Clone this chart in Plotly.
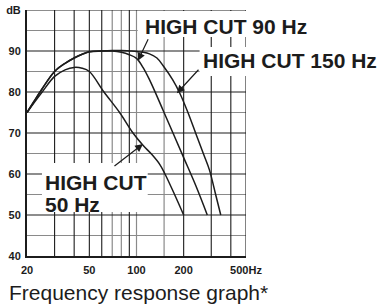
import math
import plotly.graph_objects as go

# ---- data ----
freq_50 = [20, 22, 25, 30, 35, 40, 45, 50, 62, 78, 95, 110, 125, 141, 152, 175, 200]
db_50 = [75, 77.2, 80, 83.8, 85.4, 86.0, 85.8, 85.0, 80.0, 75.0, 70.0, 67.0, 64.8, 62.3, 60.0, 55.0, 50.0]

freq_90 = [20, 22, 25, 30, 35, 40, 45, 50, 60, 70, 80, 90, 100, 110, 121, 148, 200, 240, 283]
db_90 = [75, 77.5, 80.8, 85, 87, 88.3, 89.2, 89.8, 90, 90, 89.7, 89.1, 88.2, 86, 83, 75.5, 64, 57, 50]

freq_150 = [20, 22, 25, 30, 35, 40, 45, 50, 60, 70, 80, 90, 100, 110, 121, 135, 148, 170, 189,
            213, 241, 270, 292, 320, 345]
db_150 = [75, 77.5, 80.8, 85, 87, 88.3, 89.2, 89.8, 90, 90.1, 90.1, 90, 89.9, 89.7, 89.3, 88.3,
          86.4, 83, 79.7, 75, 69.5, 64.5, 61, 55, 50]

x_tick_vals = [20, 50, 100, 200, 500]
x_tick_text = ["20", "50", "100", "200", "500Hz"]
y_tick_vals = [40, 50, 60, 70, 80, 90, 100]
y_tick_text = ["40", "50", "60", "70", "80", "90", "dB"]

grid_x_dark = [30, 40, 50, 60, 90, 200, 300, 400, 500]
grid_x_gray = [70, 80, 100, 150]
grid_y_dark = [50, 60, 70, 80, 90, 100]
grid_y_gray = [45, 55, 65, 75, 85, 95]

X_MIN, X_MAX = 20, 500
Y_MIN, Y_MAX = 40, 100

# ---- layout geometry (pixels) ----
FIG_W, FIG_H = 382, 307
L, R, T, B = 27, 246.5, 10, 256
PW, PH = R - L, B - T


def px(xp):
    return (xp - L) / PW


def py(yp):
    return (B - yp) / PH


DARK = "#1c1c1c"
GRAY = "#8a8a8a"
FONT = "Liberation Sans, Arial, sans-serif"

fig = go.Figure()


def grid_trace(vals, vertical, color, width):
    xs, ys = [], []
    for v in vals:
        if vertical:
            xs += [v, v, None]
            ys += [Y_MIN, Y_MAX, None]
        else:
            xs += [X_MIN, X_MAX, None]
            ys += [v, v, None]
    fig.add_trace(go.Scatter(x=xs, y=ys, mode="lines", line=dict(color=color, width=width),
                             hoverinfo="skip", showlegend=False))


grid_trace(grid_y_gray, False, GRAY, 1.2)
grid_trace(grid_x_gray, True, GRAY, 1.2)
grid_trace(grid_y_dark, False, DARK, 1.1)
grid_trace(grid_x_dark, True, DARK, 1.1)

for f, d in [(freq_50, db_50), (freq_90, db_90), (freq_150, db_150)]:
    fig.add_trace(go.Scatter(x=f, y=d, mode="lines", line=dict(color=DARK, width=1.5, shape="spline"),
                             hoverinfo="skip", showlegend=False))

# white label boxes
boxes = [(138, 11, 312, 37), (200, 47, 382, 76), (42, 163, 148, 212)]
for x0, y0, x1, y1 in boxes:
    fig.add_shape(type="rect", xref="paper", yref="paper", x0=px(x0), x1=px(x1), y0=py(y1), y1=py(y0),
                  fillcolor="white", line=dict(width=0), layer="above")

label_font = dict(family=FONT, size=21, color="#1c1c1c", weight="bold")
labels = [("HIGH CUT 90 Hz", 144, 26.5), ("HIGH CUT 150 Hz", 202, 60.5),
          ("HIGH CUT", 44, 182.5), ("50 Hz", 44, 204)]
for txt, xl, yc in labels:
    fig.add_annotation(text=txt, xref="paper", yref="paper", x=px(xl), y=py(yc), xanchor="left",
                       yanchor="middle", showarrow=False, font=label_font, borderpad=0)

# arrows: tip on curve (data coords), tail offset in pixels
arrows = [(102, 87.6, 11, -23), (181, 79.7, 23, -25), (110, 67.3, -30, 23)]
for f, d, axp, ayp in arrows:
    fig.add_annotation(x=math.log10(f), y=d, xref="x", yref="y", ax=axp, ay=ayp, text="",
                       showarrow=True, arrowhead=2, arrowsize=1.3, arrowwidth=1.2, arrowcolor=DARK)

fig.add_annotation(text="Frequency response graph*", xref="paper", yref="paper", x=px(7), y=py(292),
                   xanchor="left", yanchor="middle", showarrow=False,
                   font=dict(family=FONT, size=21, color="#1c1c1c"))

tick_font = dict(family=FONT, size=11, color="#1c1c1c", weight="bold")
fig.update_layout(
    width=FIG_W, height=FIG_H, margin=dict(l=L, r=FIG_W - R, t=T, b=FIG_H - B),
    paper_bgcolor="white", plot_bgcolor="white", showlegend=False,
    xaxis=dict(type="log", range=[math.log10(X_MIN), math.log10(X_MAX)], tickvals=x_tick_vals,
               ticktext=x_tick_text, showgrid=False, zeroline=False, showline=True, linecolor=DARK,
               linewidth=2, ticks="outside", ticklen=3, tickcolor="rgba(0,0,0,0)", tickfont=tick_font,
               automargin=False),
    yaxis=dict(range=[Y_MIN, Y_MAX], tickvals=y_tick_vals, ticktext=y_tick_text, showgrid=False,
               zeroline=False, showline=True, linecolor=DARK, linewidth=2, ticks="outside", ticklen=2,
               tickcolor="rgba(0,0,0,0)", tickfont=tick_font, automargin=False),
)

fig.write_html("out.html", config={"displayModeBar": False},
               post_script="document.body.style.margin='0';document.body.style.overflow='hidden';")
